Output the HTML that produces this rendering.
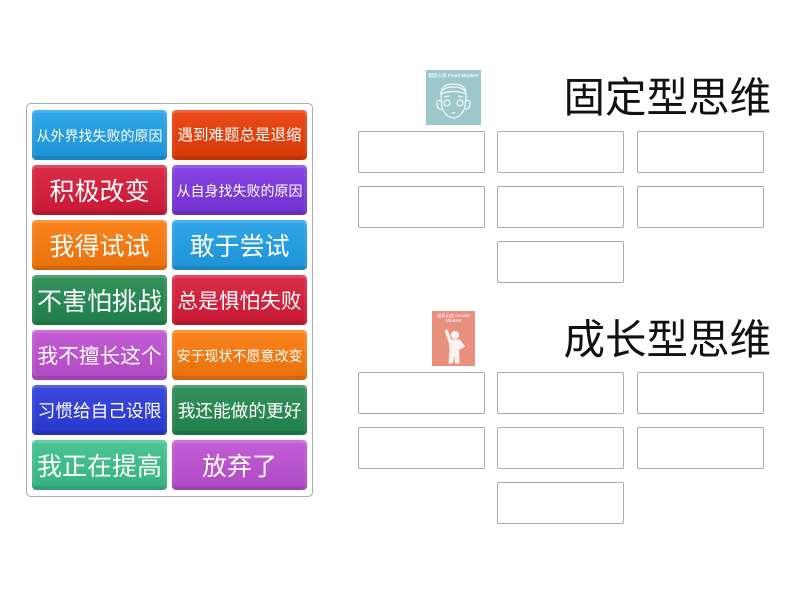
<!DOCTYPE html>
<html><head><meta charset="utf-8">
<style>
html,body{margin:0;padding:0;background:#fff;width:800px;height:600px;overflow:hidden}
body{position:relative;font-family:"Liberation Sans","Noto Sans CJK SC","WenQuanYi Zen Hei",sans-serif}
.abs{position:absolute}
#panel{left:26px;top:103px;width:285px;height:392px;border:1px solid #aaa;border-radius:5px;background:#fff}
.t{position:absolute;width:135px;height:50px;border-radius:4px;color:#fff;text-align:center;line-height:52px;white-space:nowrap;overflow:hidden;
box-shadow:inset 0 3px 0 rgba(255,255,255,.14),inset 3px 0 0 rgba(255,255,255,.06),inset -3px 0 0 rgba(255,255,255,.06),inset 0 -4px 0 rgba(0,0,0,.1)}
.t::before{content:"";position:absolute;inset:0;background:linear-gradient(rgba(255,255,255,.08),rgba(0,0,0,.08))}
.t span{position:relative}
.b span{top:1px}
.s{position:absolute;width:125px;height:40px;border:1px solid #aaa;border-radius:2px;background:#fff}
.h{position:absolute;right:29px;font-size:41.5px;line-height:50px;color:#111;white-space:nowrap}
</style></head><body>
<div id="panel" class="abs"></div>

<div class="t" style="left:32px;top:110px;background:#1f9fe8;font-size:14px"><span>从外界找失败的原因</span></div>
<div class="t" style="left:172px;top:110px;background:#e83c06;font-size:15.5px"><span>遇到难题总是退缩</span></div>
<div class="t b" style="left:32px;top:165px;background:#d81b3a;font-size:25px"><span>积极改变</span></div>
<div class="t" style="left:172px;top:165px;background:#7c35e0;font-size:14px"><span>从自身找失败的原因</span></div>
<div class="t b" style="left:32px;top:220px;background:#fb7a0c;font-size:25px"><span>我得试试</span></div>
<div class="t b" style="left:172px;top:220px;background:#1f9fe8;font-size:25px"><span>敢于尝试</span></div>
<div class="t b" style="left:32px;top:275px;background:#22894f;font-size:25px"><span>不害怕挑战</span></div>
<div class="t b" style="left:172px;top:275px;background:#d81b3a;font-size:20.7px"><span>总是惧怕失败</span></div>
<div class="t b" style="left:32px;top:330px;background:#bf50d2;font-size:20.7px"><span>我不擅长这个</span></div>
<div class="t" style="left:172px;top:330px;background:#fb7a0c;font-size:14px"><span>安于现状不愿意改变</span></div>
<div class="t" style="left:32px;top:385px;background:#2a3bdc;font-size:17.7px"><span>习惯给自己设限</span></div>
<div class="t" style="left:172px;top:385px;background:#22894f;font-size:17.7px"><span>我还能做的更好</span></div>
<div class="t b" style="left:32px;top:440px;background:#3cc08a;font-size:25px"><span>我正在提高</span></div>
<div class="t b" style="left:172px;top:440px;background:#bf50d2;font-size:25px"><span>放弃了</span></div>

<div class="h" style="top:73px">固定型思维</div>
<div class="h" style="top:315px">成长型思维</div>

<svg class="abs" style="left:426px;top:70px" width="55" height="55" viewBox="0 0 55 55">
<rect width="55" height="55" fill="#9cc8cc"/>
<text x="27.5" y="7" font-size="4.6" font-weight="bold" fill="#f4fafa" text-anchor="middle" font-family="Liberation Sans,Noto Sans CJK SC,sans-serif">固定心态 Fixed Mindset</text>
<g fill="none" stroke="#f4fafa" stroke-width="1.2">
<path d="M15 26 Q14 14 27.5 14 Q41 14 40 26 L39 37 Q36 47 27.5 48 Q19 47 16 37Z"/>
<path d="M15 24 Q16 17 27 17 Q39 17 40 24 Q28 19 15 24Z"/>
<path d="M15 31 Q10 29 11 35 Q12 40 16 39M40 31 Q45 29 44 35 Q43 40 39 39"/>
<circle cx="21" cy="33" r="3"/><circle cx="34" cy="33" r="3"/>
<path d="M18 27 L23 26M32 26 L37 27M26 43 L29 43"/>
</g></svg>

<svg class="abs" style="left:432px;top:311px" width="43" height="55" viewBox="0 0 43 55">
<rect width="43" height="55" fill="#e8907e"/>
<text x="21.5" y="6" font-size="4.2" font-weight="bold" fill="#fde" text-anchor="middle" font-family="Liberation Sans,Noto Sans CJK SC,sans-serif">成长心态 Growth</text>
<text x="21.5" y="11" font-size="4.2" font-weight="bold" fill="#fde" text-anchor="middle" font-family="Liberation Sans,Noto Sans CJK SC,sans-serif">Mindset</text>
<g fill="#fdf3ee" stroke="#fdf3ee">
<circle cx="23" cy="24" r="3.6"/>
<path d="M17 29 L28 29 L28 38 L26.5 38 L27 52 L23.5 52 L22.5 41 L20.5 52 L17 52 L18 38Z"/>
<path d="M18 30 L14 19" stroke-width="3.2" fill="none"/>
<path d="M27 30 L31 35 L28 37" stroke-width="3" fill="none"/>
</g></svg>

<div class="s" style="left:358px;top:131px"></div>
<div class="s" style="left:497px;top:131px"></div>
<div class="s" style="left:637px;top:131px"></div>
<div class="s" style="left:358px;top:186px"></div>
<div class="s" style="left:497px;top:186px"></div>
<div class="s" style="left:637px;top:186px"></div>
<div class="s" style="left:497px;top:241px"></div>

<div class="s" style="left:358px;top:372px"></div>
<div class="s" style="left:497px;top:372px"></div>
<div class="s" style="left:637px;top:372px"></div>
<div class="s" style="left:358px;top:427px"></div>
<div class="s" style="left:497px;top:427px"></div>
<div class="s" style="left:637px;top:427px"></div>
<div class="s" style="left:497px;top:482px"></div>
</body></html>
